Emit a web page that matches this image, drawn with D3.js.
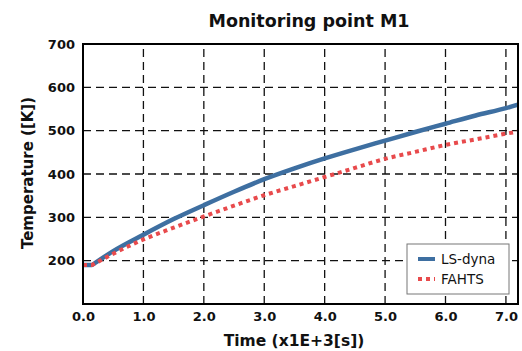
<!DOCTYPE html>
<html><head><meta charset="utf-8">
<script src="https://cdn.jsdelivr.net/npm/d3@7"></script>
<style>body{margin:0;background:#fff}svg{display:block}</style>
</head><body>
<script>
const timeValues = [0, 0.15, 0.5, 1, 1.5, 2, 2.5, 3, 3.5, 4, 4.5, 5, 5.5, 6, 6.5, 7, 7.2];
const lsDyna = [190, 190, 222, 260, 296, 328, 359, 388, 413, 436, 457, 477, 497, 516, 535, 552, 560];
const fahts  = [190, 190, 216, 249, 276, 302, 327, 351, 372, 393, 414, 435, 451, 467, 480, 493, 498];
const xTicks = [0, 1, 2, 3, 4, 5, 6, 7];
const yTicks = [200, 300, 400, 500, 600, 700];
const seriesNames = ["LS-dyna", "FAHTS"];

const W = 522, H = 351;
const m = {left: 83, right: 4, top: 44, bottom: 47};
const svg = d3.select("body").append("svg").attr("width", W).attr("height", H);
const x = d3.scaleLinear().domain([0, 7.2]).range([m.left, W - m.right]);
const y = d3.scaleLinear().domain([100, 700]).range([H - m.bottom, m.top]);
const font = "'DejaVu Sans', 'Noto Sans', sans-serif";

// grid
const g = svg.append("g");
g.selectAll(".vg").data(xTicks.filter(d => d > 0)).join("line")
  .attr("x1", d => x(d)).attr("x2", d => x(d)).attr("y1", y(100)).attr("y2", y(700))
  .attr("stroke", "#111").attr("stroke-width", 1.3).attr("stroke-dasharray", "8,5");
g.selectAll(".hg").data(yTicks.filter(d => d < 700)).join("line")
  .attr("x1", x(0)).attr("x2", x(7.2)).attr("y1", d => y(d)).attr("y2", d => y(d))
  .attr("stroke", "#111").attr("stroke-width", 1.3).attr("stroke-dasharray", "8,5");

// lines: flat start segment (linear) then smooth monotone curve
const line = vals => {
  const pts = vals.map((v, i) => [x(timeValues[i]), y(v)]);
  const smooth = d3.line().curve(d3.curveMonotoneX)(pts.slice(1));
  return `M${pts[0][0]},${pts[0][1]}L` + smooth.slice(1);
};
svg.append("path").attr("d", line(lsDyna)).attr("fill", "none")
  .attr("stroke", "#3e6fa1").attr("stroke-width", 4.5).attr("stroke-linejoin", "round");
svg.append("path").attr("d", line(fahts)).attr("fill", "none")
  .attr("stroke", "#e84a4c").attr("stroke-width", 4).attr("stroke-dasharray", "4,4");

// frame
svg.append("rect").attr("x", x(0)).attr("y", y(700)).attr("width", x(7.2) - x(0)).attr("height", y(100) - y(700))
  .attr("fill", "none").attr("stroke", "#000").attr("stroke-width", 2);

// axes
const xAxis = svg.append("g").attr("transform", `translate(0,${y(100)})`)
  .call(d3.axisBottom(x).tickValues(xTicks).tickFormat(d3.format(".1f")).tickSize(0).tickPadding(8));
const yAxis = svg.append("g").attr("transform", `translate(${x(0)},0)`)
  .call(d3.axisLeft(y).tickValues(yTicks).tickSize(0).tickPadding(8));
[xAxis, yAxis].forEach(a => {
  a.select(".domain").remove();
  a.selectAll("text").attr("font-family", font).attr("font-weight", "bold").attr("font-size", 13).attr("fill", "#111");
});

// titles
svg.append("text").attr("x", 309).attr("y", 27).attr("text-anchor", "middle")
  .attr("font-family", font).attr("font-weight", "bold").attr("font-size", 17.5).attr("fill", "#111")
  .text("Monitoring point M1");
svg.append("text").attr("x", 294).attr("y", 346).attr("text-anchor", "middle")
  .attr("font-family", font).attr("font-weight", "bold").attr("font-size", 15.5).attr("fill", "#111")
  .text("Time (x1E+3[s])");
svg.append("text").attr("transform", "translate(33,173) rotate(-90)").attr("text-anchor", "middle")
  .attr("font-family", font).attr("font-weight", "bold").attr("font-size", 15).attr("fill", "#111")
  .text("Temperature ([K])");

// legend
const lg = svg.append("g").attr("transform", "translate(407,244)");
lg.append("rect").attr("width", 102).attr("height", 50).attr("fill", "#fff").attr("stroke", "#777").attr("stroke-width", 1);
const colors = ["#3e6fa1", "#e84a4c"];
seriesNames.forEach((n, i) => {
  const yy = 15 + i * 20;
  lg.append("line").attr("x1", 11).attr("x2", 28).attr("y1", yy).attr("y2", yy)
    .attr("stroke", colors[i]).attr("stroke-width", 4).attr("stroke-dasharray", i ? "4,4" : null);
  lg.append("text").attr("x", 34).attr("y", yy + 5).attr("font-family", font).attr("font-size", 13.5).attr("fill", "#111").text(n);
});
</script>
</body></html>
